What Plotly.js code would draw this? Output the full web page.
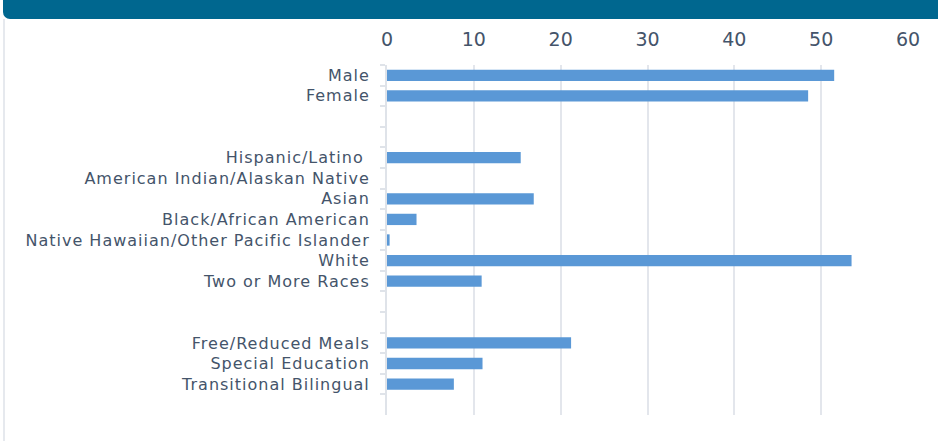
<!DOCTYPE html>
<html>
<head>
<meta charset="utf-8">
<script src="https://cdn.plot.ly/plotly-3.0.1.min.js"></script>
<style>
  html, body { margin: 0; padding: 0; background: #ffffff; }
  #wrap { position: relative; width: 938px; height: 441px; overflow: hidden; }
  #header { position: absolute; left: 3px; top: 0; width: 935px; height: 19px; background: #00678f; border-bottom-left-radius: 7px; }
  #leftline { position: absolute; left: 3px; top: 19px; width: 2px; height: 422px; background: #e6e9ee; }
  #chart { position: absolute; left: 0; top: 0; width: 938px; height: 441px; }
  #chart .ytick text { letter-spacing: 1px; }
</style>
</head>
<body>
<div id="wrap">
  <div id="chart"></div>
  <div id="header"></div>
  <div id="leftline"></div>
</div>
<script>
const categories = [
  "Male", "Female", " ", "  ",
  "Hispanic/Latino ", "American Indian/Alaskan Native", "Asian", "Black/African American",
  "Native Hawaiian/Other Pacific Islander", "White", "Two or More Races", "   ", "    ",
  "Free/Reduced Meals", "Special Education", "Transitional Bilingual", "     "
];
const values = [
  51.5, 48.5, null, null,
  15.4, 0, 16.9, 3.4,
  0.3, 53.5, 10.9, null, null,
  21.2, 11.0, 7.7, null
];
const xTicks = [0, 10, 20, 30, 40, 50, 60];

const trace = {
  type: "bar",
  orientation: "h",
  y: categories,
  x: values,
  marker: { color: "#5a98d6" },
  hoverinfo: "x+y"
};

const layout = {
  width: 938,
  height: 441,
  margin: { l: 387, r: 30, t: 65, b: 26 },
  paper_bgcolor: "#ffffff",
  plot_bgcolor: "#ffffff",
  showlegend: false,
  bargap: 0.45,
  font: { family: "DejaVu Sans, sans-serif", size: 16, color: "#44546a" },
  xaxis: {
    side: "top",
    range: [0, 60],
    tickvals: xTicks,
    ticks: "",
    ticklabelstandoff: 14,
    showgrid: true,
    gridcolor: "#e3e6ec",
    gridwidth: 2,
    zeroline: false,
    showline: false,
    tickfont: { family: "DejaVu Sans, sans-serif", size: 19, color: "#44546a" },
    fixedrange: true
  },
  yaxis: {
    type: "category",
    categoryorder: "array",
    categoryarray: categories,
    autorange: "reversed",
    tickson: "boundaries",
    ticks: "outside",
    ticklen: 5,
    tickwidth: 2,
    tickcolor: "#dfe3e9",
    showline: true,
    linecolor: "#dfe3e9",
    linewidth: 2,
    showgrid: false,
    zeroline: false,
    ticklabelstandoff: 12,
    tickfont: { family: "DejaVu Sans, sans-serif", size: 16, color: "#44546a" },
    fixedrange: true
  }
};

Plotly.newPlot("chart", [trace], layout, { displayModeBar: false, staticPlot: true });
</script>
</body>
</html>
